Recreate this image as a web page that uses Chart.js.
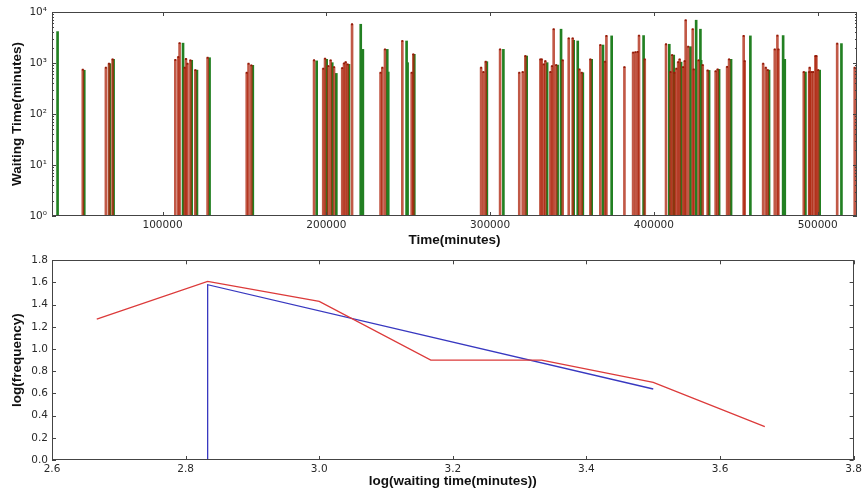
<!DOCTYPE html>
<html>
<head>
<meta charset="utf-8">
<script src="https://cdn.jsdelivr.net/npm/chart.js@4/dist/chart.umd.min.js"></script>
<style>
  html, body { margin: 0; padding: 0; background: #fff; }
  #wrap { position: relative; width: 865px; height: 491px; }
  canvas { position: absolute; left: 0; }
  #waitChart { top: 0; }
  #freqChart { top: 250px; }
</style>
</head>
<body>
<div id="wrap">
  <canvas id="waitChart" width="865" height="250"></canvas>
  <canvas id="freqChart" width="865" height="241"></canvas>
</div>
<script>
// Waiting time of each event (minutes), first series
const redTimes = [51300, 65400, 67300, 69500, 107800, 109600, 110400, 113500, 114300, 115200, 117000, 120000,
  127500, 151400, 152500, 154200, 192500, 198100, 199200, 201200, 202600, 204700, 209700, 210800, 211800,
  213000, 215700, 233100, 234200, 235800, 246400, 252100, 253100, 294500, 295900, 297300, 306100, 317800,
  319900, 321500, 330700, 331500, 332700, 333700, 336800, 337800, 338800, 340300, 344300, 348000, 350400,
  354500, 355900, 361200, 367300, 370200, 371000, 382000, 387300, 388700, 390100, 390900, 394400, 407400,
  410100, 411100, 412500, 413700, 414800, 415700, 417800, 418800, 419400, 420900, 423700, 424300, 427300,
  429800, 432800, 437700, 438900, 444700, 445900, 454800, 455400, 466700, 468300, 469500, 473800, 475400,
  476000, 491500, 494800, 495100, 496200, 497200, 498600, 499200, 500300, 511900, 522600];
const redWaits = [740, 810, 970, 1180, 1150, 1310, 2450, 810, 1200, 970, 1130, 725,
  1270, 645, 970, 900, 1130, 775, 1220, 870, 1130, 830, 795, 985, 1040,
  940, 5750, 645, 810, 1850, 2700, 645, 1480, 810, 665, 1060, 1850, 645,
  665, 1370, 1180, 1180, 940, 1090, 665, 870, 4600, 910, 1130, 3050, 3050,
  750, 645, 1180, 2250, 1060, 3400, 830, 1600, 1630, 1650, 3450, 1180, 2330,
  665, 1430, 645, 775, 1040, 1180, 830, 1090, 6900, 2090, 4600, 750, 1130,
  910, 715, 690, 750, 840, 1180, 3400, 1090, 970, 810, 725, 1850, 3450,
  1850, 665, 665, 810, 665, 665, 1370, 1370, 725, 2400, 810];

// Second series
const greenTimes = [35900, 52200, 67800, 70100, 112500, 117800, 121000, 128700, 155100, 194100, 200200,
  203600, 206100, 213800, 221000, 222300, 237200, 237800, 249000, 249600, 253700, 298000, 308100, 322300,
  334800, 341200, 343300, 351000, 353500, 356600, 362000, 368900, 374200, 393700, 409400, 412100, 416600,
  422300, 425800, 428400, 428800, 433700, 439800, 447100, 458900, 470300, 478900, 479900, 492500, 501200,
  514500];
const greenWaits = [4130, 720, 970, 1180, 2450, 1130, 725, 1270, 900, 1100, 1180,
  1015, 625, 940, 5750, 1850, 1850, 665, 2700, 1015, 1480, 1060, 1850, 1370,
  1015, 910, 4600, 2790, 2700, 645, 1180, 2250, 3400, 3450, 2330, 1430, 1040,
  2090, 6900, 4600, 1130, 715, 750, 1180, 3400, 725, 3450, 1180, 665, 725,
  2400];

const timeTicks = [100000, 200000, 300000, 400000, 500000];
const waitTicks = [1, 10, 100, 1000, 10000];
const waitTickLabels = ['10\u2070', '10\u00b9', '10\u00b2', '10\u00b3', '10\u2074'];

// Frequency distribution of waiting times (log-log)
const observedLogWait = [2.667, 2.833, 3.0, 3.167, 3.333, 3.5, 3.667];
const observedLogFreq = [1.27, 1.61, 1.43, 0.90, 0.90, 0.70, 0.30];
const fitLogWait = [2.833, 2.833, 3.5];
const fitLogFreq = [0, 1.58, 0.64];

const logWaitTicks = [2.6, 2.8, 3.0, 3.2, 3.4, 3.6, 3.8];
const logWaitTickLabels = ['2.6', '2.8', '3.0', '3.2', '3.4', '3.6', '3.8'];
const logFreqTicks = [0, 0.2, 0.4, 0.6, 0.8, 1.0, 1.2, 1.4, 1.6, 1.8];
const logFreqTickLabels = ['0.0', '0.2', '0.4', '0.6', '0.8', '1.0', '1.2', '1.4', '1.6', '1.8'];

const zip = (xs, ys) => xs.map((x, i) => ({ x, y: ys[i] }));

const tickFont = { family: 'DejaVu Sans', size: 10.5 };
const titleFont = { family: 'Liberation Sans', size: 13.5, weight: 'bold' };
const inkColor = '#2a2a2a';
const noGrid = { display: false, drawTicks: false, tickLength: 0 };

// Box around the plot with inward tick marks on all four sides
const axesFrame = {
  id: 'axesFrame',
  afterDatasetsDraw(chart, args, opts) {
    const { ctx, chartArea: a } = chart;
    const xs = chart.scales.x, ys = chart.scales.y;
    ctx.save();
    ctx.strokeStyle = '#444';
    ctx.lineWidth = 1;
    ctx.beginPath();
    const seg = (x1, y1, x2, y2) => { ctx.moveTo(x1, y1); ctx.lineTo(x2, y2); };
    xs.ticks.forEach(t => {
      const p = Math.round(xs.getPixelForValue(t.value)) + 0.5;
      seg(p, a.bottom, p, a.bottom - 4);
      seg(p, a.top, p, a.top + 4);
    });
    ys.ticks.forEach(t => {
      const p = Math.round(ys.getPixelForValue(t.value)) + 0.5;
      seg(a.left, p, a.left + 4, p);
      seg(a.right, p, a.right - 4, p);
    });
    if (opts && opts.logMinor) {
      for (let d = 1; d < ys.max; d *= 10) {
        for (let m = 2; m <= 9; m++) {
          const p = Math.round(ys.getPixelForValue(m * d)) + 0.5;
          seg(a.left, p, a.left + 2, p);
          seg(a.right, p, a.right - 2, p);
        }
      }
    }
    ctx.stroke();
    ctx.strokeRect(Math.round(a.left) + 0.5, Math.round(a.top) + 0.5,
                   Math.round(a.width) - 1, Math.round(a.height) - 1);
    ctx.restore();
  }
};

new Chart(document.getElementById('waitChart'), {
  type: 'bar',
  data: {
    datasets: [
      {
        type: 'bar',
        data: zip(greenTimes, greenWaits),
        backgroundColor: 'rgb(34,128,34)',
        borderWidth: 0,
        barThickness: 2,
        grouped: false,
        order: 3
      },
      {
        type: 'bar',
        data: zip(redTimes, redWaits),
        backgroundColor: 'rgba(172,34,10,0.75)',
        borderWidth: 0,
        barThickness: 2,
        grouped: false,
        order: 2
      },
      {
        type: 'scatter',
        data: zip(redTimes, redWaits),
        pointStyle: 'rect',
        pointRadius: 1.3,
        borderWidth: 0,
        backgroundColor: '#931a08',
        order: 1
      }
    ]
  },
  options: {
    responsive: false,
    devicePixelRatio: 1,
    animation: false,
    layout: { padding: { top: 12, right: 8, left: 0, bottom: 0 } },
    plugins: { legend: { display: false }, tooltip: { enabled: false }, axesFrame: { logMinor: true } },
    scales: {
      x: {
        type: 'linear',
        min: 32500,
        max: 524000,
        offset: false,
        grid: noGrid,
        border: { display: false },
        afterBuildTicks: s => { s.ticks = timeTicks.map(v => ({ value: v })); },
        afterFit: s => { s.height = 34; },
        ticks: {
          autoSkip: false, maxRotation: 0, padding: 3,
          font: tickFont, color: inkColor,
          callback: v => String(v)
        },
        title: { display: true, text: 'Time(minutes)', font: titleFont, color: '#111', padding: { top: 0, bottom: 2 } }
      },
      y: {
        type: 'logarithmic',
        min: 1,
        max: 10000,
        grid: noGrid,
        border: { display: false },
        afterBuildTicks: s => { s.ticks = waitTicks.map(v => ({ value: v })); },
        afterFit: s => { s.width = 52; },
        ticks: {
          autoSkip: false, padding: 5,
          font: tickFont, color: inkColor,
          callback: v => waitTickLabels[waitTicks.indexOf(v)]
        },
        title: { display: true, text: 'Waiting Time(minutes)', font: titleFont, color: '#111', padding: { top: 9, bottom: 0 } }
      }
    }
  },
  plugins: [axesFrame]
});

new Chart(document.getElementById('freqChart'), {
  type: 'scatter',
  data: {
    datasets: [
      {
        data: zip(observedLogWait, observedLogFreq),
        showLine: true,
        borderColor: '#dc3a3a',
        borderWidth: 1.3,
        pointRadius: 0,
        tension: 0
      },
      {
        data: zip(fitLogWait, fitLogFreq),
        showLine: true,
        borderColor: '#3838c0',
        borderWidth: 1.3,
        pointRadius: 0,
        tension: 0
      }
    ]
  },
  options: {
    responsive: false,
    devicePixelRatio: 1,
    animation: false,
    layout: { padding: { top: 7, right: 9, left: 0, bottom: 0 } },
    plugins: { legend: { display: false }, tooltip: { enabled: false } },
    scales: {
      x: {
        type: 'linear',
        min: 2.6,
        max: 3.8,
        grid: noGrid,
        border: { display: false },
        afterBuildTicks: s => { s.ticks = logWaitTicks.map(v => ({ value: v })); },
        afterFit: s => { s.height = 31; },
        ticks: {
          autoSkip: false, maxRotation: 0, padding: 3,
          font: tickFont, color: inkColor,
          callback: v => logWaitTickLabels[logWaitTicks.indexOf(v)]
        },
        title: { display: true, text: 'log(waiting time(minutes))', font: titleFont, color: '#111', padding: { top: 0, bottom: 2 } }
      },
      y: {
        type: 'linear',
        min: 0,
        max: 1.8,
        grid: noGrid,
        border: { display: false },
        afterBuildTicks: s => { s.ticks = logFreqTicks.map(v => ({ value: v })); },
        afterFit: s => { s.width = 52; },
        ticks: {
          autoSkip: false, padding: 4,
          font: tickFont, color: inkColor,
          callback: v => logFreqTickLabels[logFreqTicks.indexOf(v)]
        },
        title: { display: true, text: 'log(frequency)', font: titleFont, color: '#111', padding: { top: 9, bottom: 0 } }
      }
    }
  },
  plugins: [axesFrame]
});
</script>
</body>
</html>
